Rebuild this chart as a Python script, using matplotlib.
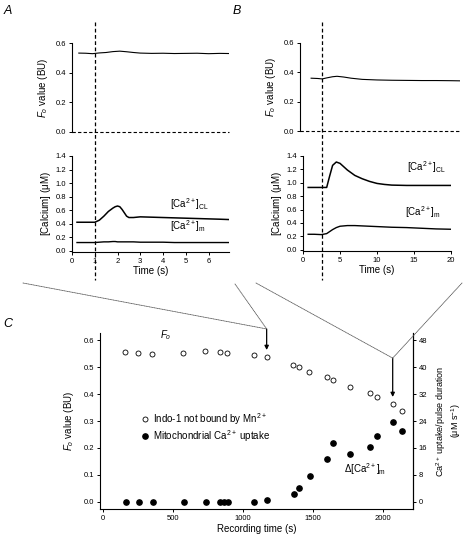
import matplotlib
matplotlib.use("Agg")
import matplotlib.pyplot as plt
from matplotlib.patches import ConnectionPatch
from matplotlib.lines import Line2D
from matplotlib.transforms import blended_transform_factory

plt.rcParams['font.family'] = ['Liberation Sans', 'DejaVu Sans']
plt.rcParams['mathtext.fontset'] = 'custom'
plt.rcParams['mathtext.rm'] = 'Liberation Sans'
plt.rcParams['mathtext.it'] = 'Liberation Sans:italic'
plt.rcParams['mathtext.default'] = 'regular'

# ---- panel A traces (single pulse, early) ----
tA_fo = [0.3, 0.6, 0.9, 1.2, 1.5, 1.8, 2.1, 2.4, 2.7, 3.0, 3.5, 4.0, 4.5, 5.0, 5.5, 6.0, 6.5, 6.9]
fo_A = [0.532, 0.531, 0.528, 0.533, 0.536, 0.542, 0.545, 0.541, 0.536, 0.532, 0.530,
        0.531, 0.529, 0.530, 0.531, 0.528, 0.530, 0.529]
tA_ca = [0.22, 0.5, 0.8, 1.0, 1.2, 1.4, 1.6, 1.8, 1.9, 2.0, 2.1, 2.2, 2.3, 2.4, 2.5,
         2.7, 3.0, 3.5, 4.0, 4.5, 5.0, 5.5, 6.0, 6.5, 6.9]
cacl_A = [0.42, 0.42, 0.42, 0.42, 0.45, 0.51, 0.58, 0.63, 0.65, 0.66, 0.65, 0.61, 0.56,
          0.51, 0.49, 0.49, 0.50, 0.495, 0.49, 0.485, 0.48, 0.475, 0.47, 0.465, 0.46]
cam_A = [0.12, 0.12, 0.12, 0.12, 0.125, 0.13, 0.13, 0.135, 0.135, 0.13, 0.13, 0.13, 0.13,
         0.13, 0.13, 0.13, 0.125, 0.125, 0.125, 0.12, 0.12, 0.12, 0.12, 0.12, 0.12]
stim_A = 1.0

# ---- panel B traces (single pulse, late) ----
tB_fo = [1.1, 2.0, 2.6, 3.2, 4.0, 4.6, 5.5, 6.5, 8.0, 10, 12, 14, 16, 18, 20, 21.2]
fo_B = [0.360, 0.358, 0.355, 0.362, 0.370, 0.373, 0.368, 0.360, 0.352, 0.348, 0.346,
        0.345, 0.344, 0.344, 0.343, 0.342]
tB_ca = [0.7, 1.5, 2.5, 3.2, 3.6, 4.0, 4.5, 5.0, 5.5, 6.0, 7.0, 8.0, 9.0, 10, 11, 12, 14, 16, 18, 20]
cacl_B = [0.93, 0.93, 0.93, 0.93, 1.10, 1.26, 1.31, 1.29, 1.24, 1.19, 1.11, 1.06, 1.02,
          0.99, 0.975, 0.965, 0.96, 0.96, 0.96, 0.96]
cam_B = [0.23, 0.23, 0.225, 0.24, 0.27, 0.30, 0.33, 0.35, 0.355, 0.36, 0.36, 0.355, 0.35,
         0.345, 0.34, 0.335, 0.33, 0.32, 0.31, 0.305]
stim_B = 2.6

# ---- panel C: time course over recording ----
rec_fo = [157, 252, 347, 574, 729, 836, 883, 1079, 1169, 1360, 1403, 1471, 1598, 1640,
          1764, 1907, 1955, 2069, 2133]
fo_C = [0.557, 0.551, 0.548, 0.551, 0.559, 0.554, 0.551, 0.544, 0.536, 0.507, 0.501,
        0.483, 0.462, 0.452, 0.425, 0.403, 0.388, 0.363, 0.337]
rec_up = [164, 259, 355, 581, 736, 836, 864, 891, 1081, 1169, 1366, 1400, 1479, 1602,
          1640, 1766, 1907, 1959, 2069, 2133]
uptake_C = [0, 0, 0, 0, 0, 0, 0, 0, 0, 0.5, 2.3, 4.1, 7.7, 12.7, 17.4, 14.2, 16.3, 19.6,
            23.6, 21.0]
pulse_A = 1169
pulse_B = 2069

W, H = 467, 541
fig = plt.figure(figsize=(W / 100, H / 100), dpi=100)


def rect(x0, x1, ytop, ybot):
    return [x0 / W, 1 - ybot / H, (x1 - x0) / W, (ybot - ytop) / H]


tick_kw = dict(direction='out', length=2.5, width=0.7, labelsize=5.5, pad=1.5)


def style(ax, spines):
    for s in ['left', 'right', 'top', 'bottom']:
        ax.spines[s].set_visible(s in spines)
        ax.spines[s].set_linewidth(0.8)
    ax.tick_params(**tick_kw)


axAt = fig.add_axes(rect(72, 229, 43, 132))
axAb = fig.add_axes(rect(72, 229, 156, 252))
axBt = fig.add_axes(rect(300, 460, 43, 131))
axBb = fig.add_axes(rect(303, 451, 156, 251))
axC = fig.add_axes(rect(100, 413, 333, 509))
axC2 = axC.twinx()

dash = (0, (3, 2))

# A top
style(axAt, ['left'])
axAt.plot(tA_fo, fo_A, color='k', lw=0.8)
axAt.axhline(0, color='k', lw=0.8, ls=dash, clip_on=False)
axAt.set_xlim(0, 6.9)
axAt.set_ylim(0, 0.6)
axAt.set_yticks([0, 0.2, 0.4, 0.6])
axAt.set_yticklabels(['0.0', '0.2', '0.4', '0.6'])
axAt.set_xticks([])
axAt.set_ylabel('$\\it{F}_{o}$ value (BU)', fontsize=7, labelpad=4)

# A bottom
style(axAb, ['left', 'bottom'])
axAb.plot(tA_ca, cacl_A, color='k', lw=1.1)
axAb.plot(tA_ca, cam_A, color='k', lw=1.0)
axAb.set_xlim(0, 6.9)
axAb.set_ylim(-0.02, 1.4)
axAb.set_yticks([0, 0.2, 0.4, 0.6, 0.8, 1.0, 1.2, 1.4])
axAb.set_yticklabels(['0.0', '0.2', '0.4', '0.6', '0.8', '1.0', '1.2', '1.4'])
axAb.set_xticks(range(7))
axAb.set_xlabel('Time (s)', fontsize=7, labelpad=1)
axAb.set_ylabel('[Calcium] ($\\mu$M)', fontsize=7, labelpad=2)
axAb.text(4.3, 0.63, '[Ca$^{2+}$]$_{CL}$', fontsize=7)
axAb.text(4.3, 0.30, '[Ca$^{2+}$]$_{m}$', fontsize=7)

# B top
style(axBt, ['left'])
axBt.plot(tB_fo, fo_B, color='k', lw=0.8)
axBt.axhline(0, color='k', lw=0.8, ls=dash, clip_on=False)
axBt.set_xlim(-0.4, 21.2)
axBt.set_ylim(0, 0.6)
axBt.set_yticks([0, 0.2, 0.4, 0.6])
axBt.set_yticklabels(['0.0', '0.2', '0.4', '0.6'])
axBt.set_xticks([])
axBt.set_ylabel('$\\it{F}_{o}$ value (BU)', fontsize=7, labelpad=4)

# B bottom
style(axBb, ['left', 'bottom'])
axBb.plot(tB_ca, cacl_B, color='k', lw=1.1)
axBb.plot(tB_ca, cam_B, color='k', lw=1.0)
axBb.set_xlim(0, 20)
axBb.set_ylim(-0.02, 1.4)
axBb.set_yticks([0, 0.2, 0.4, 0.6, 0.8, 1.0, 1.2, 1.4])
axBb.set_yticklabels(['0.0', '0.2', '0.4', '0.6', '0.8', '1.0', '1.2', '1.4'])
axBb.set_xticks([0, 5, 10, 15, 20])
axBb.set_xlabel('Time (s)', fontsize=7, labelpad=1)
axBb.set_ylabel('[Calcium] ($\\mu$M)', fontsize=7, labelpad=2)
axBb.text(14.0, 1.17, '[Ca$^{2+}$]$_{CL}$', fontsize=7)
axBb.text(13.8, 0.50, '[Ca$^{2+}$]$_{m}$', fontsize=7)

# stimulus markers spanning both sub-panels
for ax, t in [(axAb, stim_A), (axBb, stim_B)]:
    tr = blended_transform_factory(ax.transData, fig.transFigure)
    fig.add_artist(Line2D([t, t], [1 - 22 / H, 1 - 280 / H], transform=tr,
                          color='k', lw=0.9, ls=dash))

# C
style(axC, ['left', 'bottom', 'right'])
axC2.spines['top'].set_visible(False)
axC2.spines['left'].set_visible(False)
axC2.spines['bottom'].set_visible(False)
axC2.spines['right'].set_linewidth(0.8)
axC2.tick_params(**tick_kw)
axC.plot(rec_fo, fo_C, 'o', mfc='white', mec='k', mew=0.6, ms=3.6, ls='none',
         label='Indo-1 not bound by Mn$^{2+}$', clip_on=False)
axC2.plot(rec_up, uptake_C, 'o', color='k', ms=3.8, ls='none', clip_on=False)
axC.plot([], [], 'o', color='k', ms=3.8, ls='none', label='Mitochondrial Ca$^{2+}$ uptake')
axC.set_xlim(-21, 2214)
axC.set_ylim(-0.026, 0.626)
axC2.set_ylim(-2.1, 50.1)
axC.set_yticks([0, 0.1, 0.2, 0.3, 0.4, 0.5, 0.6])
axC.set_yticklabels(['0.0', '0.1', '0.2', '0.3', '0.4', '0.5', '0.6'])
axC2.set_yticks([0, 8, 16, 24, 32, 40, 48])
axC.set_xticks([0, 500, 1000, 1500, 2000])
axC.set_xlabel('Recording time (s)', fontsize=7, labelpad=2)
axC.set_ylabel('$\\it{F}_{o}$ value (BU)', fontsize=7, labelpad=6)
axC2.set_ylabel('Ca$^{2+}$ uptake/pulse duration\n($\\mu$M s$^{-1}$)', fontsize=6.5,
                labelpad=5, linespacing=1.2)
axC.text(405, 0.605, '$\\it{F}_{o}$', fontsize=7)
axC2.text(1720, 8.6, '$\\Delta$[Ca$^{2+}$]$_{m}$', fontsize=7)
axC.legend(loc='upper left', bbox_to_anchor=(0.115, 0.58), frameon=False, fontsize=7,
           handletextpad=0.4, handlelength=1.0, borderaxespad=0, labelspacing=0.12)

# arrows marking the pulses shown in A and B
arrA_top, arrA_end = 0.641, 0.563
arrB_top, arrB_end = 0.533, 0.389
for x, y0, y1 in [(pulse_A, arrA_top, arrA_end), (pulse_B, arrB_top, arrB_end)]:
    axC.annotate('', xy=(x, y1), xytext=(x, y0), annotation_clip=False,
                 arrowprops=dict(arrowstyle='-|>', lw=0.9, color='k', mutation_scale=6,
                                 shrinkA=0, shrinkB=0))

# dotted guide lines from panels A/B to the arrows
guides = [((23, 283), pulse_A, arrA_top), ((235, 284), pulse_A, arrA_top),
          ((256, 283), pulse_B, arrB_top), ((462, 283), pulse_B, arrB_top)]
for (px, py), x, y in guides:
    cp = ConnectionPatch(xyA=(px / W, 1 - py / H), coordsA=fig.transFigure,
                         xyB=(x, y), coordsB=axC.transData,
                         color='0.35', lw=0.6, ls=(0, (1, 1)))
    fig.add_artist(cp)

# panel letters
for lab, px, py in [('A', 8, 11), ('B', 237, 11), ('C', 8, 324)]:
    fig.text(px / W, 1 - py / H, lab, fontsize=9, style='italic', ha='center', va='center')

fig.savefig('out.png', dpi=100)
